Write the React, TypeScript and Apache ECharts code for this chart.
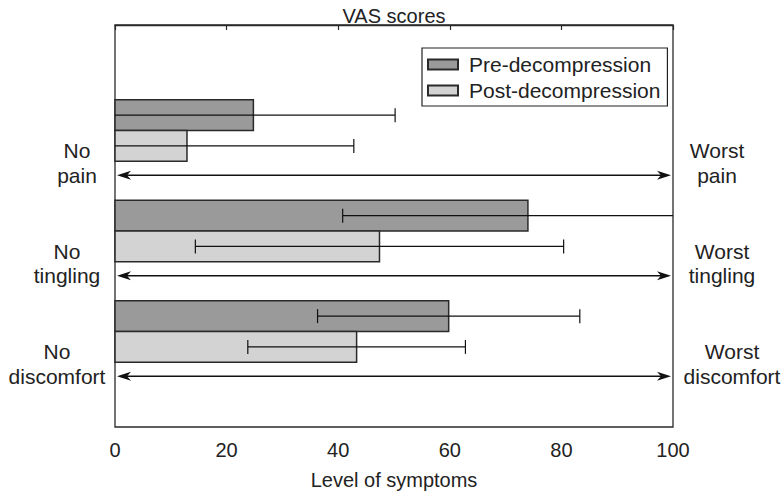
import React, { useEffect, useRef } from "react";
import * as echarts from "echarts";

const categories = ["pain", "tingling", "discomfort"];
const preValues = [24.8, 74.0, 59.8];
const preSD = [25.4, 33.2, 23.5];
const postValues = [12.9, 47.4, 43.3];
const postSD = [29.9, 33.0, 19.5];
const leftLabels = ["No\npain", "No\ntingling", "No\ndiscomfort"];
const rightLabels = ["Worst\npain", "Worst\ntingling", "Worst\ndiscomfort"];
const seriesNames = ["Pre-decompression", "Post-decompression"];
const seriesColors = ["#9a9a9a", "#d3d3d3"];

const FONT = "Liberation Sans";
const BAR_H = 0.306;
const CENTER_OFF = 1.05;
const ARROW_OFF = 0.445;
const LEFT_LABEL_GAP = [38, 48, 58];
const RIGHT_LABEL_GAP = [44, 49, 59];

function barRender(which: number) {
  return (params: any, api: any) => {
    const v = api.value(0);
    const sd = api.value(1);
    const g = api.value(2);
    const c = g + CENTER_OFF;
    const top = which === 0 ? c - BAR_H : c;
    const bottom = top + BAR_H;
    const p0 = api.coord([0, top]);
    const p1 = api.coord([v, bottom]);
    const midY = api.coord([0, top + BAR_H / 2])[1];
    const lo = v - sd;
    const hi = v + sd;
    const xlo = api.coord([Math.max(lo, 0), 0])[0];
    const xhi = api.coord([Math.min(hi, 100), 0])[0];
    const cap = 7;
    const children: any[] = [
      {
        type: "rect",
        shape: { x: p0[0], y: p0[1], width: p1[0] - p0[0], height: p1[1] - p0[1] },
        style: { fill: seriesColors[which], stroke: "#2a2a2a", lineWidth: 1.5 },
      },
      {
        type: "line",
        shape: { x1: xlo, y1: midY, x2: xhi, y2: midY },
        style: { stroke: "#111", lineWidth: 1.2 },
      },
    ];
    if (lo > 0.5) {
      children.push({
        type: "line",
        shape: { x1: xlo, y1: midY - cap, x2: xlo, y2: midY + cap },
        style: { stroke: "#111", lineWidth: 1.2 },
      });
    }
    if (hi < 99.5) {
      children.push({
        type: "line",
        shape: { x1: xhi, y1: midY - cap, x2: xhi, y2: midY + cap },
        style: { stroke: "#111", lineWidth: 1.2 },
      });
    }
    return { type: "group", children };
  };
}

function arrowRender(params: any, api: any) {
  const g = api.value(1);
  const yv = g + CENTER_OFF + ARROW_OFF;
  const y = api.coord([0, yv])[1];
  const ax0 = api.coord([0, yv])[0];
  const ax1 = api.coord([100, yv])[0];
  const x0 = ax0 + 2;
  const x1 = ax1 - 2;
  const ty = y - 12;
  const textStyle = {
    fontSize: 21,
    fontFamily: FONT,
    fill: "#222",
    align: "center",
    verticalAlign: "middle",
    lineHeight: 24.5,
  };
  return {
    type: "group",
    children: [
      {
        type: "line",
        shape: { x1: x0 + 4, y1: y, x2: x1 - 4, y2: y },
        style: { stroke: "#111", lineWidth: 1.3 },
      },
      {
        type: "polygon",
        shape: { points: [[x0, y], [x0 + 14, y - 4.5], [x0 + 10, y], [x0 + 14, y + 4.5]] },
        style: { fill: "#111" },
      },
      {
        type: "polygon",
        shape: { points: [[x1, y], [x1 - 14, y - 4.5], [x1 - 10, y], [x1 - 14, y + 4.5]] },
        style: { fill: "#111" },
      },
      {
        type: "text",
        style: { ...textStyle, text: leftLabels[g], x: ax0 - LEFT_LABEL_GAP[g], y: ty },
      },
      {
        type: "text",
        style: { ...textStyle, text: rightLabels[g], x: ax1 + RIGHT_LABEL_GAP[g], y: ty },
      },
    ],
  };
}

export default function App() {
  const ref = useRef<HTMLDivElement>(null);
  useEffect(() => {
    document.body.style.margin = "0";
    document.body.style.overflow = "hidden";
    if (!ref.current) return;
    const chart = echarts.init(ref.current, undefined, { renderer: "svg" });
    const preData = categories.map((_, i) => [preValues[i], preSD[i], i]);
    const postData = categories.map((_, i) => [postValues[i], postSD[i], i]);
    const arrowData = categories.map((_, i) => [50, i]);
    chart.setOption({
      animation: false,
      backgroundColor: "#fff",
      title: {
        text: "VAS scores",
        left: 394,
        textAlign: "center",
        top: 6,
        padding: 0,
        textStyle: { fontFamily: FONT, fontSize: 20, fontWeight: "normal", color: "#222" },
      },
      legend: {
        data: seriesNames,
        orient: "vertical",
        left: 422,
        top: 48,
        padding: [6, 7, 5, 5],
        itemGap: 5,
        itemWidth: 30,
        itemHeight: 10,
        borderColor: "#222",
        borderWidth: 1.2,
        borderRadius: 0,
        icon: "rect",
        textStyle: { fontFamily: FONT, fontSize: 21, color: "#222", padding: [0, 0, 0, 6] },
      },
      grid: {
        left: 115,
        right: 111,
        top: 25,
        bottom: 65,
        show: true,
        borderColor: "#2a2a2a",
        borderWidth: 1.3,
        backgroundColor: "transparent",
      },
      xAxis: {
        type: "value",
        min: 0,
        max: 100,
        interval: 20,
        splitLine: { show: false },
        axisLine: { show: true, lineStyle: { color: "#2a2a2a", width: 1.3 } },
        axisTick: { show: true, length: 5, lineStyle: { color: "#2a2a2a", width: 1.2 } },
        axisLabel: { fontFamily: FONT, fontSize: 20, color: "#222", margin: 13 },
        name: "Level of symptoms",
        nameLocation: "middle",
        nameGap: 43,
        nameTextStyle: { fontFamily: FONT, fontSize: 20, color: "#222" },
      },
      yAxis: {
        type: "value",
        min: 0,
        max: 4,
        inverse: true,
        show: false,
      },
      series: [
        {
          name: seriesNames[0],
          type: "custom",
          renderItem: barRender(0),
          data: preData,
          encode: { x: 0, y: 2 },
          itemStyle: { color: seriesColors[0], borderColor: "#2a2a2a", borderWidth: 1.5 },
          clip: false,
          z: 2,
        },
        {
          name: seriesNames[1],
          type: "custom",
          renderItem: barRender(1),
          data: postData,
          encode: { x: 0, y: 2 },
          itemStyle: { color: seriesColors[1], borderColor: "#2a2a2a", borderWidth: 1.5 },
          clip: false,
          z: 3,
        },
        {
          name: "arrows",
          type: "custom",
          renderItem: arrowRender,
          data: arrowData,
          encode: { x: 0, y: 1 },
          clip: false,
          silent: true,
          z: 4,
        },
      ],
    });
    return () => chart.dispose();
  }, []);
  return <div ref={ref} style={{ width: 784, height: 495 }} />;
}
